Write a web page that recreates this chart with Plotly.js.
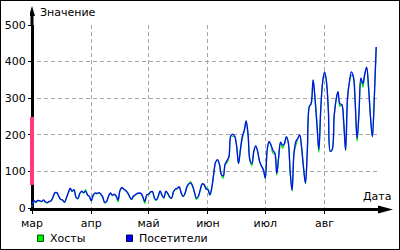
<!DOCTYPE html>
<html><head><meta charset="utf-8">
<script src="https://cdn.plot.ly/plotly-3.0.1.min.js"></script>
<style>
html,body{margin:0;padding:0;background:#fff}
#wrap{position:relative;width:400px;height:250px}
#chart{width:400px;height:250px}
#frame{position:absolute;left:0;top:0;width:400px;height:250px;box-sizing:border-box;border:1px solid #000;pointer-events:none}
</style>
</head><body><div id="wrap"><div id="chart"></div><div id="frame"></div></div>
<script>
// ---- data (daily values) ----
const startYear = 2012;
const monthStarts = ['2012-03-01','2012-04-01','2012-05-01','2012-06-01','2012-07-01','2012-08-01'];
const monthLabels = ['мар','апр','май','июн','июл','авг'];
const yTicks = [0,100,200,300,400,500];

const visMar = [4,20,16,21,20,18,22,17,15,18,20,30,42,42,32,24,22,16,28,42,54,46,50,30,26,40,46,42,46,36,32];
const visApr = [20,35,41,40,42,38,30,15,18,32,41,35,38,33,22,48,56,52,48,42,32,24,32,36,40,41,40,30,18,36];
const visMay = [38,44,45,28,22,32,47,35,28,46,40,30,27,45,52,54,58,42,32,40,58,66,68,60,42,27,32,50,66,64,52];
const visJun = [50,36,55,92,125,132,120,92,88,120,130,140,198,202,196,170,122,160,196,212,238,200,130,122,155,170,155,128,115,105];
const visJul = [82,160,182,172,158,150,95,140,180,172,176,195,180,100,48,150,182,190,200,165,110,68,160,277,286,350,300,230,160,270,345];
const visAug = [372,345,265,155,160,250,295,318,285,283,235,158,300,345,372,360,290,190,260,355,340,365,385,330,250,195,300,440];

const hostMar = [3,19,15,20,19,17,21,16,14,17,19,29,41,41,31,23,21,15,27,41,53,45,49,29,25,39,45,41,50,35,31];
const hostApr = [19,34,40,39,41,37,29,14,17,31,40,34,37,32,17,47,55,51,47,41,31,23,31,35,39,40,39,29,13,35];
const hostMay = [37,43,44,27,21,31,46,34,27,45,39,29,26,44,51,53,57,41,31,39,57,65,72,59,41,23,31,49,65,63,56];
const hostJun = [52,35,54,91,124,131,119,91,82,119,124,139,197,196,195,169,121,159,190,211,237,199,129,116,154,169,154,127,114,104];
const hostJul = [81,159,181,171,150,149,90,139,179,164,175,194,179,99,47,149,172,189,199,164,109,67,159,276,285,349,299,229,152,269,344];
const hostAug = [371,344,264,154,159,249,294,317,278,282,234,157,299,344,362,359,289,182,259,354,330,364,384,329,249,194,299,439];

const markDate = ['2012-03-01'];
const markLow = [63];
const markHigh = [249];

// ---- build ----
const visitors = [].concat(visMar, visApr, visMay, visJun, visJul, visAug);
const hosts = [].concat(hostMar, hostApr, hostMay, hostJun, hostJul, hostAug);
const dates = visitors.map((_, i) => new Date(Date.UTC(startYear, 2, 1 + i)).toISOString().slice(0, 10));
const origin = monthStarts[0];

const traces = [
  {x: dates, y: hosts, type: 'scatter', mode: 'lines', name: 'Хосты',
   line: {color: '#00e600', width: 1.3, shape: 'spline', smoothing: 1}},
  {x: dates, y: visitors, type: 'scatter', mode: 'lines', name: 'Посетители',
   line: {color: '#0a0aff', width: 1.3, shape: 'spline', smoothing: 1}},
  {x: markDate, y: markLow, type: 'scatter', mode: 'markers', cliponaxis: false,
   marker: {size: 1, color: 'rgba(0,0,0,0)'},
   error_y: {type: 'data', symmetric: false, array: markHigh.map((h, i) => h - markLow[i]), arrayminus: [0],
             thickness: 4, width: 0, color: '#ff3b7a'}}
];

const L = 30, W = 347, H = 183;
const shapes = [
  // y-axis arrow (stem + head) above the plot
  {type: 'path', xref: 'x', yref: 'paper', xsizemode: 'pixel', ysizemode: 'pixel', xanchor: origin, yanchor: 1,
   path: 'M -1.5,-1 L -1.5,9 L -3,9 L 0,19 L 3,9 L 1.5,9 L 1.5,-1 Z', fillcolor: '#000', line: {width: 0}},
  // x-axis arrow
  {type: 'path', xref: 'paper', yref: 'paper', xsizemode: 'pixel', ysizemode: 'pixel', xanchor: 1, yanchor: 0,
   path: 'M -1,-3 L 1,-3 L 1,-5.5 L 16,-1.5 L 1,2.5 L 1,0 L -1,0 Z', fillcolor: '#000', line: {width: 0}},
  // legend swatches
  {type: 'rect', xref: 'paper', yref: 'paper', xsizemode: 'pixel', ysizemode: 'pixel', xanchor: 0, yanchor: 0,
   x0: 7.5, x1: 13.5, y0: -27, y1: -33.5, fillcolor: '#00ee00', line: {color: '#005500', width: 1}},
  {type: 'rect', xref: 'paper', yref: 'paper', xsizemode: 'pixel', ysizemode: 'pixel', xanchor: 0, yanchor: 0,
   x0: 96.5, x1: 102.5, y0: -27, y1: -33.5, fillcolor: '#0000ff', line: {color: '#000055', width: 1}}
];

const annotations = [
  {text: 'Значение', xref: 'paper', yref: 'paper', x: (39-L)/W, y: (208-12.3)/H, xanchor: 'left', yanchor: 'middle', showarrow: false, borderpad: 0},
  {text: 'Дата', xref: 'paper', yref: 'paper', x: (392-L)/W, y: (208-196.7)/H, xanchor: 'right', yanchor: 'middle', showarrow: false, borderpad: 0},
  {text: 'Хосты', xref: 'paper', yref: 'paper', x: (49.3-L)/W, y: (208-238)/H, xanchor: 'left', yanchor: 'middle', showarrow: false, borderpad: 0},
  {text: 'Посетители', xref: 'paper', yref: 'paper', x: (138.3-L)/W, y: (208-238)/H, xanchor: 'left', yanchor: 'middle', showarrow: false, borderpad: 0}
];

const gridStyle = {showgrid: true, gridcolor: '#a6a6a6', gridwidth: 1, griddash: '4px,3px',
  showline: true, linecolor: '#000', linewidth: 3, ticks: 'outside', tickcolor: '#000', tickwidth: 1,
  zeroline: false, layer: 'below traces', fixedrange: true};

const layout = {
  width: 400, height: 250,
  margin: {l: L, r: 23, t: 25, b: 42, pad: 0},
  paper_bgcolor: '#fff', plot_bgcolor: '#fff',
  showlegend: false,
  font: {family: 'DejaVu Sans, Verdana, sans-serif', size: 11, color: '#000'},
  xaxis: Object.assign({}, gridStyle, {type: 'date', domain: [0, 1], range: ['2012-02-28 22:55', '2012-08-28 10:00'],
    tickmode: 'array', tickvals: monthStarts, ticktext: monthLabels, ticklen: 3}),
  yaxis: Object.assign({}, gridStyle, {anchor: 'free', position: 2 / W, range: [0, 500],
    tickmode: 'array', tickvals: yTicks, ticklen: 3}),
  shapes: shapes,
  annotations: annotations
};

Plotly.newPlot('chart', traces, layout, {staticPlot: true, displayModeBar: false});
</script></body></html>
